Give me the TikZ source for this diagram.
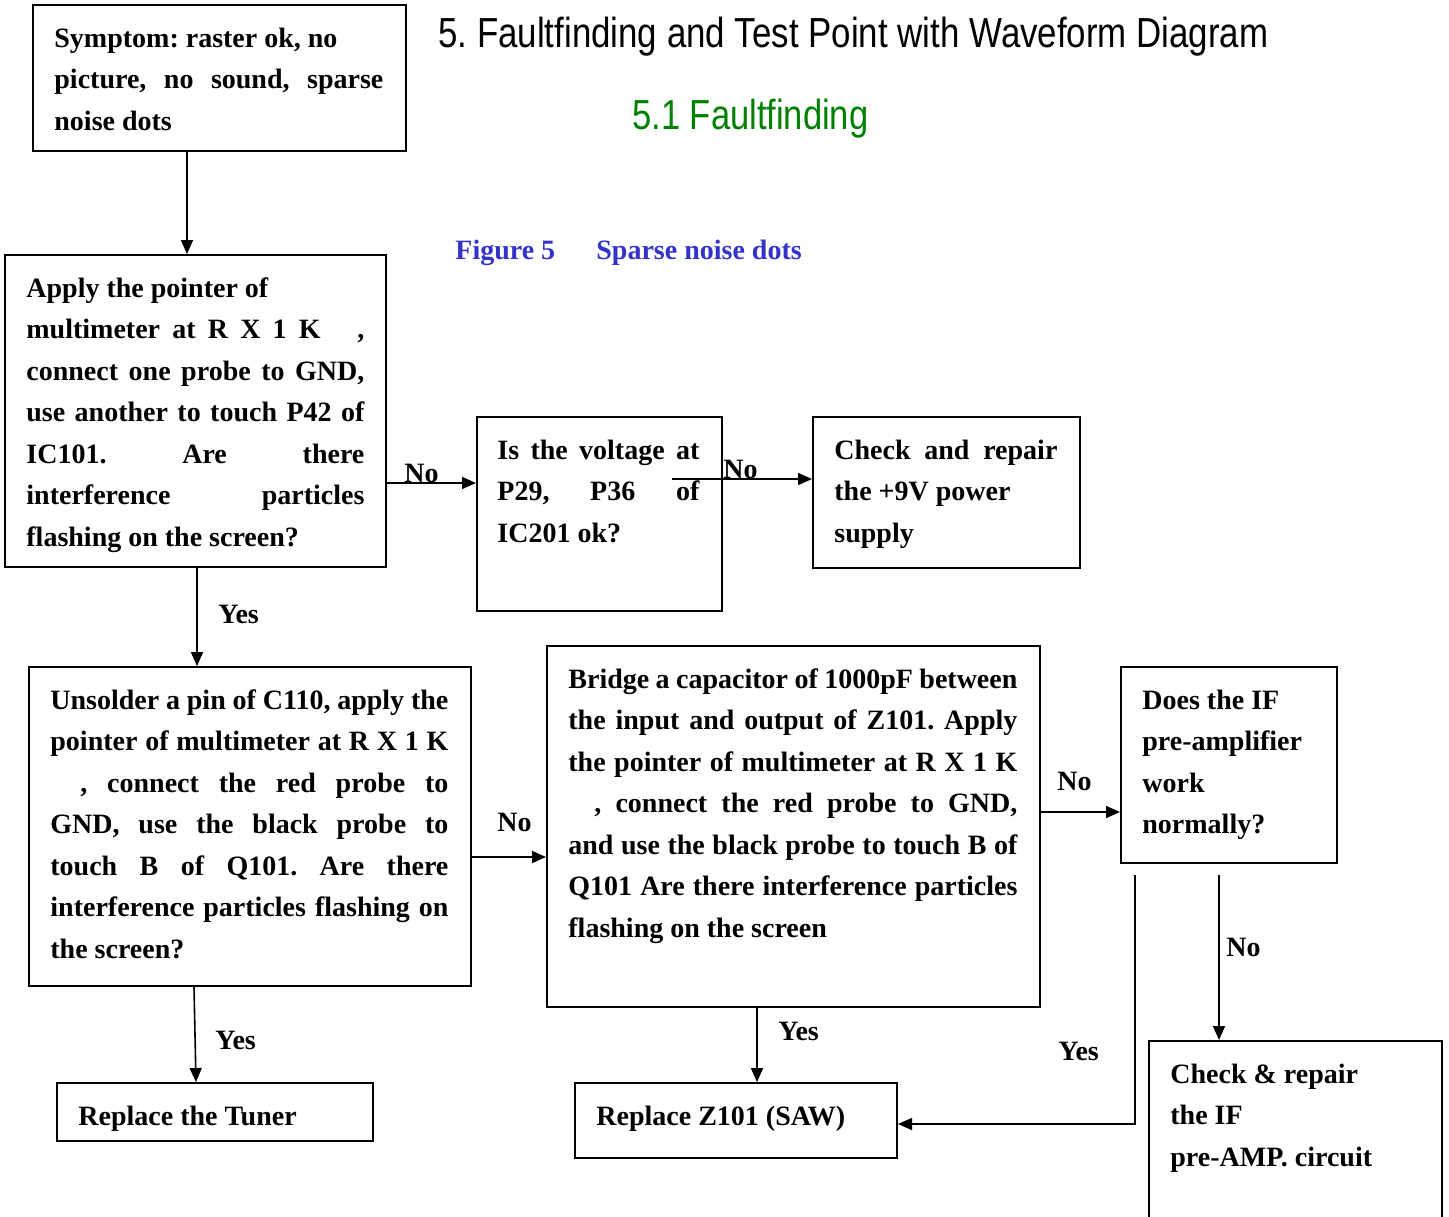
\documentclass[tikz,border=0pt]{standalone}
\usepackage{fontspec}
\usepackage{graphicx}
\setmainfont{Liberation Serif}
\newfontfamily\titlefont{Liberation Sans}
\usetikzlibrary{arrows.meta,fit}
\definecolor{titlegreen}{RGB}{0,128,0}
\definecolor{capblue}{RGB}{51,51,204}
\newlength{\tw}
\newcommand{\jl}[1]{\makebox[\tw][s]{\spaceskip=0pt\relax\xspaceskip=0pt\relax #1}}
\newcommand{\fst}{\spaceskip=0pt\relax\xspaceskip=0pt\relax\noindent\rule{0pt}{14pt}}
\frenchspacing
\begin{document}
\begin{tikzpicture}[x=0.5pt,y=-0.5pt,
  box/.style={draw, line width=1pt, inner sep=0pt},
  txt/.style={anchor=north west, inner sep=0pt, align=left, text width=#1,
    execute at begin node={\setlength{\tw}{#1}\frenchspacing},
    font=\bfseries\fontsize{14}{20.75}\selectfont},
  lbl/.style={anchor=base west, inner sep=0pt, font=\bfseries\fontsize{14}{16}\selectfont},
  arr/.style={line width=0.8pt, -{Triangle[length=7pt,width=6pt]}},
  ln/.style={line width=0.8pt}]
\useasboundingbox[fill=white] (0,0) rectangle (1449,1216);

% titles
\node[anchor=base west, inner sep=0pt] (title) at (438,47)
  {\resizebox{415pt}{\height}{\titlefont\fontsize{21}{25}\selectfont 5. Faultfinding and Test Point with Waveform Diagram}};
\node[anchor=base west, inner sep=0pt, text=titlegreen] (sub) at (632,129)
  {\resizebox{118pt}{\height}{\titlefont\fontsize{21}{25}\selectfont 5.1 Faultfinding}};
\node[lbl, text=capblue] (fig) at (455,259) {Figure 5};
\node[lbl, text=capblue] (figt) at (596,259) {Sparse noise dots};

% boxes
\node[box, fit={(33,5) (406,151)}] (sym) {};
\node[box, fit={(5,255) (386,567)}] (apply) {};
\node[box, fit={(477,417) (722,611)}] (isv) {};
\node[box, fit={(813,417) (1080,568)}] (chk) {};
\node[box, fit={(29,667) (471,986)}] (uns) {};
\node[box, fit={(547,646) (1040,1007)}] (bri) {};
\node[box, fit={(1121,667) (1337,863)}] (does) {};
\node[box, fit={(1149,1041) (1442,1260)}] (cif) {};
\node[box, fit={(57,1083) (373,1141)}] (tun) {};
\node[box, fit={(575,1083) (897,1158)}] (z101) {};

% texts
\node[txt=164.5pt] (tsym) at ([shift={(22,15)}]sym.north west)
  {\fst Symptom: raster ok, no\\
   \jl{picture, no sound, sparse}\\
   noise dots};
\node[txt=169pt] (tapply) at ([shift={(22,15)}]apply.north west)
  {\fst Apply the pointer of\\
   \jl{multimeter at R X 1 K\ \ \ ,}\\
   \jl{connect one probe to GND,}\\
   \jl{use another to touch P42 of}\\
   \jl{IC101. Are there}\\
   \jl{interference particles}\\
   flashing on the screen?};
\node[txt=101pt] (tisv) at ([shift={(21,15)}]isv.north west)
  {\fst\jl{Is the voltage at}\\
   \jl{P29, P36 of}\\
   IC201 ok?};
\node[txt=111.5pt] (tchk) at ([shift={(22,15)}]chk.north west)
  {\fst\jl{Check and repair}\\
   the +9V power\\
   supply};
\node[txt=199pt] (tuns) at ([shift={(22,15)}]uns.north west)
  {\fst\jl{Unsolder a pin of C110, apply the}\\
   \jl{pointer of multimeter at R X 1 K}\\
   \jl{\hspace*{15pt}, connect the red probe to}\\
   \jl{GND, use the black probe to}\\
   \jl{touch B of Q101. Are there}\\
   \jl{interference particles flashing on}\\
   the screen?};
\node[txt=224.5pt] (tbri) at ([shift={(22,15)}]bri.north west)
  {\fst\jl{Bridge a capacitor of 1000pF between}\\
   \jl{the input and output of Z101. Apply}\\
   \jl{the pointer of multimeter at R X 1 K}\\
   \jl{\hspace*{13pt}, connect the red probe to GND,}\\
   \jl{and use the black probe to touch B of}\\
   \jl{Q101 Are there interference particles}\\
   flashing on the screen};
\node[txt=90pt] (tdoes) at ([shift={(22,15)}]does.north west)
  {\fst Does the IF\\ pre-amplifier\\ work\\ normally?};
\node[txt=130pt] (tcif) at ([shift={(22,15)}]cif.north west)
  {\fst Check \& repair\\ the IF\\ pre-AMP. circuit};
\node[txt=140pt] (ttun) at ([shift={(22,15)}]tun.north west)
  {\fst Replace the Tuner};
\node[txt=150pt] (tz) at ([shift={(22,15)}]z101.north west)
  {\fst Replace Z101 (SAW)};

% labels
\node[lbl] (l1) at (404,482) {No};
\node[lbl] (l2) at (723,478) {No};
\node[lbl] (l3) at (218,623) {Yes};
\node[lbl] (l4) at (497,831) {No};
\node[lbl] (l5) at (1057,790) {No};
\node[lbl] (l6) at (1226,956) {No};
\node[lbl] (l7) at (215,1049) {Yes};
\node[lbl] (l8) at (778,1040) {Yes};
\node[lbl] (l9) at (1058,1060) {Yes};

% helper coordinates
\coordinate (c187) at (187,0);
\coordinate (c483) at (0,483);
\coordinate (n2s) at (672,479);
\coordinate (c197) at (197,0);
\coordinate (c857) at (0,857);
\coordinate (c812) at (0,812);
\coordinate (d1) at (1219,875);
\coordinate (d2) at (1135,875);
\coordinate (c1124) at (0,1124);
\coordinate (u1) at (194,0);
\coordinate (u2) at (196,0);
\coordinate (c757) at (757,0);

% connectors
\draw[arr] (sym.south -| c187) -- (apply.north -| c187);
\draw[arr] (apply.east |- c483) -- (isv.west |- c483);
\draw[arr] (n2s) -- (chk.west |- n2s);
\draw[arr] (apply.south -| c197) -- (uns.north -| c197);
\draw[arr] (uns.east |- c857) -- (bri.west |- c857);
\draw[arr] (bri.east |- c812) -- (does.west |- c812);
\draw[arr] (d1) -- (cif.north -| d1);
\draw[arr] (d2) -- (d2 |- c1124) -- (z101.east |- c1124);
\draw[arr] (uns.south -| u1) -- (tun.north -| u2);
\draw[arr] (bri.south -| c757) -- (z101.north -| c757);
\end{tikzpicture}
\end{document}
